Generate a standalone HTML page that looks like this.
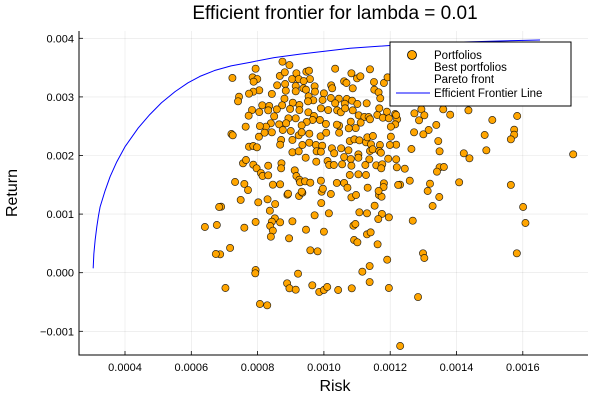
<!DOCTYPE html>
<html><head><meta charset="utf-8"><style>
html,body{margin:0;padding:0;background:#fff;}
svg{display:block;font-family:"Liberation Sans","DejaVu Sans",sans-serif;}
</style></head><body>
<svg id="chart" width="600" height="400" viewBox="0 0 600 400">
<text x="335" y="19" font-size="19" text-anchor="middle" fill="#000">Efficient frontier for lambda = 0.01</text>
<text x="335" y="391" font-size="16" text-anchor="middle">Risk</text>
<text x="0" y="0" font-size="16" text-anchor="middle" transform="translate(17,193) rotate(-90)">Return</text>
<g id="grid"></g>
<g id="frontier"></g>
<g id="points"></g>
<g id="axes"></g>
<g>
<rect x="390" y="42" width="181" height="64" fill="#fff" stroke="#000" stroke-width="1"/>
<circle cx="412" cy="55" r="4.5" fill="#FFA500" stroke="#000" stroke-width="0.8"/>
<text x="434" y="59" font-size="11.5">Portfolios</text>
<text x="434" y="71" font-size="11.5">Best portfolios</text>
<text x="434" y="83" font-size="11.5">Pareto front</text>
<line x1="396" y1="93" x2="430" y2="93" stroke="#0000ff" stroke-width="1"/>
<text x="434" y="97" font-size="11.5">Efficient Frontier Line</text>
</g>
</svg>
<script>
// values in units of 1e-4
const xTicks = [0.0004,0.0006,0.0008,0.0010,0.0012,0.0014,0.0016];
const xTickLabels = ["0.0004","0.0006","0.0008","0.0010","0.0012","0.0014","0.0016"];
const yTicks = [-0.001,0,0.001,0.002,0.003,0.004];
const yTickLabels = ["\u22120.001","0.000","0.001","0.002","0.003","0.004"];
const frontierRiskE4 = [3.04,3.06,3.10,3.15,3.20,3.25,3.40,3.55,3.75,4.00,4.40,4.75,5.10,5.51,5.90,6.26,6.70,7.20,7.77,8.50,9.28,10.79,12.30,13.80,15.31,16.52];
const frontierReturnE4 = [0.75,3.2,5.6,7.85,9.7,11.26,14.0,16.38,18.9,21.50,24.7,27.0,29.0,30.9,32.4,33.5,34.5,35.3,35.9,36.7,37.3,38.3,38.9,39.3,39.54,39.71];
const riskE4 = [6.90,7.49,8.02,8.30,8.53,8.90,9.25,9.35,9.93,10.21,10.83,11.66,11.74,8.37,8.52,8.43,8.38,8.46,8.40,8.68,7.94,7.60,9.05,8.95,9.46,9.72,9.92,10.15,10.00,9.59,9.81,7.17,6.87,7.94,7.93,9.22,8.89,8.96,9.15,9.65,9.86,10.00,10.10,10.43,10.84,7.03,8.07,8.29,11.07,11.30,11.53,11.75,11.64,11.96,10.89,10.95,10.91,11.01,11.30,11.41,11.62,11.91,11.38,11.16,11.38,11.96,12.30,
12.73,12.94,13.03,12.87,12.21,12.15,12.02,12.15,13.60,13.81,14.36,15.08,15.83,13.39,13.16,13.00,12.72,14.85,15.74,15.74,15.64,13.45,13.49,12.64,12.18,12.02,14.22,14.39,14.90,17.52,12.20,12.44,13.49,13.62,13.41,12.59,12.30,13.20,13.13,13.48,13.28,14.08,15.64,16.01,16.08,12.68,12.99,13.03,15.82,12.84,
8.75,8.96,7.94,7.24,7.85,7.99,7.88,8.67,8.82,9.04,9.17,9.24,9.47,9.55,9.58,9.39,10.34,10.83,11.00,11.10,11.39,10.61,10.68,8.59,8.83,9.15,9.38,9.72,10.22,10.25,10.87,11.51,11.81,11.92,8.05,7.87,7.74,7.44,7.41,8.43,8.85,9.15,9.46,9.54,9.73,10.00,10.21,10.45,10.69,10.85,11.52,11.65,11.70,11.29,11.01,10.63,10.34,9.96,9.68,9.52,9.26,9.06,8.81,8.74,8.58,8.35,8.14,7.83,7.73,8.05,8.32,8.50,8.98,9.26,9.53,9.70,9.91,10.13,10.40,10.51,10.64,10.87,11.05,11.22,11.35,11.61,11.67,11.90,11.78,11.96,12.18,11.39,11.11,10.81,10.96,10.75,10.46,10.39,10.46,10.06,9.88,9.66,9.48,9.33,9.15,8.93,8.86,8.65,8.40,8.25,8.07,7.64,7.21,7.25,8.04,8.21,8.43,8.76,9.00,9.24,9.33,9.56,9.90,10.07,8.71,9.05,9.35,9.56,9.76,9.95,10.24,10.52,10.78,10.92,11.07,11.27,11.31,11.48,11.42,11.69,11.99,8.68,7.74,7.87,7.98,9.05,9.24,9.78,9.91,10.31,10.61,10.74,11.04,11.39,11.47,10.81,11.04,11.37,11.67,11.72,9.45,9.77,10.11,10.16,10.30,10.55,10.83,11.25,11.58,11.76,11.73,11.94,12.18,7.56,7.87,7.97,8.10,8.15,8.32,8.32,8.72,8.71,9.12,9.17,9.26,9.28,9.43,9.59,9.91,9.97,9.33,8.92,8.46,8.68,7.60,10.39,10.61,10.78,11.04,11.27,10.71,10.97,11.32,11.81,11.80,11.65,12.24,
6.41,6.77,6.84,6.74,7.65,7.32,7.71];
const returnE4 = [11.26,12.41,12.01,12.53,11.72,13.31,13.09,13.65,13.82,13.43,12.87,13.26,12.97,10.58,9.28,8.70,7.97,7.17,6.14,8.60,8.65,7.68,8.77,5.87,7.34,9.80,11.89,10.14,7.00,3.82,3.65,4.22,3.14,0.46,-0.10,-0.17,-1.81,-2.66,-2.90,-2.15,-3.29,-2.95,-2.44,-2.95,-2.66,-2.61,-5.34,-5.56,10.31,10.14,11.43,10.02,9.16,9.45,8.02,8.31,5.58,5.19,6.55,6.89,4.85,2.22,1.14,0.17,-1.59,-2.61,-12.51,
27.20,27.88,26.86,26.01,26.18,25.32,24.92,27.08,27.88,26.96,27.71,26.06,26.74,25.21,24.35,23.62,23.96,23.50,24.40,23.55,22.76,22.47,20.72,21.11,21.84,23.21,20.38,19.52,20.89,20.20,17.99,17.75,17.99,18.04,17.24,15.70,15.02,15.19,13.94,12.92,11.38,15.43,14.97,11.21,8.48,8.87,3.31,2.51,3.31,-4.15,
36.01,35.44,34.81,33.23,33.34,33.05,32.59,33.57,34.20,33.05,34.03,33.05,34.30,34.47,33.05,32.71,34.81,34.03,33.17,33.52,34.71,32.66,32.37,31.98,32.20,31.86,31.47,31.81,31.98,31.47,31.47,32.54,32.37,33.34,31.13,30.89,30.55,30.03,29.25,30.50,31.06,30.96,31.23,30.10,30.89,30.61,29.81,29.69,29.64,29.35,31.23,30.79,29.76,28.91,28.79,28.84,28.91,29.47,29.42,29.25,28.62,29.01,29.69,28.57,27.88,28.45,28.57,27.76,26.79,27.42,27.71,26.69,27.94,27.76,27.37,26.74,28.05,27.76,27.71,27.37,28.05,27.71,26.86,26.57,26.57,26.91,28.05,27.47,26.45,26.35,26.91,26.18,25.60,25.77,24.69,24.64,25.09,25.26,23.89,25.38,26.06,26.06,25.72,25.15,26.35,26.35,25.50,25.32,25.50,24.92,25.03,24.92,23.67,23.45,23.21,23.89,23.96,24.35,24.18,23.45,23.96,23.72,23.28,23.89,22.65,22.65,21.79,22.18,21.79,21.67,21.23,21.23,22.47,22.76,22.59,22.25,23.11,23.33,21.91,21.79,21.79,21.84,21.50,21.62,21.40,20.55,20.72,20.72,20.65,20.38,19.74,20.89,20.20,20.77,21.06,19.40,19.62,19.35,20.77,20.48,19.62,18.94,19.06,18.38,18.38,18.50,18.26,18.38,18.33,18.50,17.82,19.45,19.35,18.67,18.43,17.82,17.01,16.50,16.62,18.26,18.67,17.82,17.47,16.50,15.87,15.43,15.60,15.36,15.70,14.33,13.82,13.48,15.02,15.09,15.14,15.31,15.31,16.67,16.79,16.67,14.50,13.26,14.50,15.26,14.62,13.94,14.97,
7.80,8.14,11.21,3.19,19.23,15.48,14.11];

const NS = "http://www.w3.org/2000/svg";
const L = 79, R = 588, T = 31, B = 355;
function xs(v){ return 125 + (v - 0.0004) / 0.0002 * 66.3; }
function ys(v){ return 272.7 - v * 58600; }
function mk(tag, attrs, parent){
  const e = document.createElementNS(NS, tag);
  for (const k in attrs) e.setAttribute(k, attrs[k]);
  parent.appendChild(e); return e;
}
const grid = document.getElementById('grid');
const axes = document.getElementById('axes');
xTicks.forEach((t, i) => {
  const x = xs(t);
  const g = mk('line', {x1:x, x2:x, y1:T, y2:B, stroke:'#000', 'stroke-opacity':0.1, 'stroke-width':0.6}, grid);
  
  
  const tk = mk('line', {x1:x, x2:x, y1:B, y2:B-4, stroke:'#000', 'stroke-width':0.8}, axes);
  
  
  const lb = mk('text', {x:x, y:B+16, 'font-size':11, 'text-anchor':'middle'}, axes);
  lb.textContent = xTickLabels[i];
  
  
});
yTicks.forEach((t, i) => {
  const y = ys(t);
  const g = mk('line', {x1:L, x2:R, y1:y, y2:y, stroke:'#000', 'stroke-opacity':0.1, 'stroke-width':0.6}, grid);
  
  
  const tk = mk('line', {x1:L, x2:L+4, y1:y, y2:y, stroke:'#000', 'stroke-width':0.8}, axes);
  
  
  const lb = mk('text', {x:L-5, y:y+4, 'font-size':11, 'text-anchor':'end'}, axes);
  lb.textContent = yTickLabels[i];
  
  
});
const ax = mk('path', {d:`M${L},${T} L${L},${B} L${R},${B}`, fill:'none', stroke:'#000', 'stroke-width':1}, axes);



const fr = document.getElementById('frontier');
let d = '';
frontierRiskE4.forEach((r, i) => {
  d += (i ? ' L' : 'M') + xs(r * 1e-4).toFixed(2) + ',' + ys(frontierReturnE4[i] * 1e-4).toFixed(2);
});
const fl = mk('path', {d:d, fill:'none', stroke:'#0000ff', 'stroke-width':1, 'stroke-linejoin':'round'}, fr);



const pts = document.getElementById('points');
riskE4.forEach((r, i) => {
  const c = mk('circle', {cx:xs(r * 1e-4).toFixed(2), cy:ys(returnE4[i] * 1e-4).toFixed(2), r:3.6, fill:'#FFA500', stroke:'#000', 'stroke-width':0.7, 'stroke-opacity':0.8}, pts);
  
  
});
</script>
</body></html>
